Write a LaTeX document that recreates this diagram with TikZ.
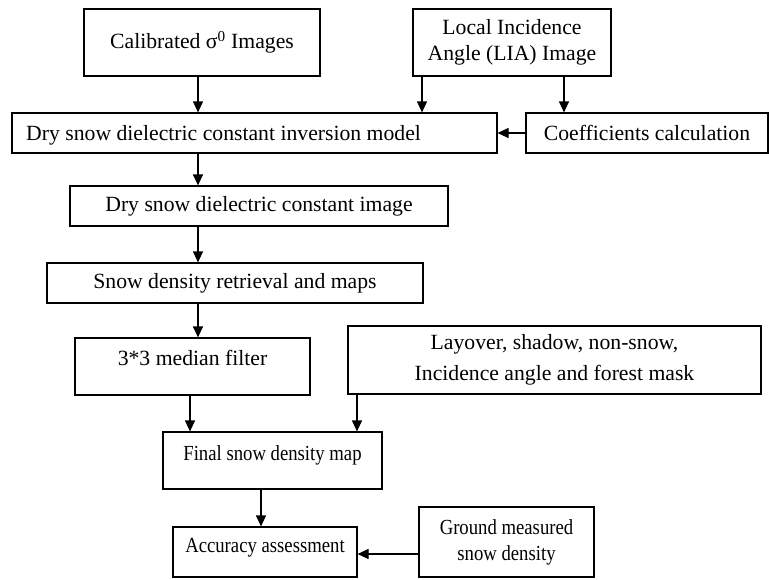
\documentclass[tikz,border=0pt]{standalone}
\usepackage{fontspec}
\setmainfont{Liberation Serif}
\newfontfamily\condensedserif[FakeStretch=0.87]{Liberation Serif}
\usetikzlibrary{arrows.meta}
\tikzset{
  box/.style={draw, line width=1.2pt, inner sep=0pt, align=center, font=\fontsize{21.7}{26}\selectfont},
  lbl/.style={inner sep=0pt, align=center, font=\fontsize{21.7}{26}\selectfont},
  small/.style={font=\condensedserif\fontsize{21.5}{26}\selectfont},
  arr/.style={line width=1.2pt, -{Triangle[length=11pt,width=10pt]}},
}
\begin{document}
\begin{tikzpicture}[x=1pt,y=-1pt]
\useasboundingbox (0,0) rectangle (769,579);
\node[box, minimum width=236, minimum height=67] (cal) at (202,42.5) {Calibrated σ\textsuperscript{0} Images};
\node[box, minimum width=198, minimum height=67] (lia) at (512,42.5) {Local Incidence\\Angle (LIA) Image};
\node[box, minimum width=485, minimum height=40] (inv) at (254.5,133) {};
\node[lbl, anchor=base west] (invt) at (26,140.5) {Dry snow dielectric constant inversion model};
\node[box, minimum width=242, minimum height=40] (coef) at (647,133) {Coefficients calculation};
\node[box, minimum width=378, minimum height=40] (die) at (259,206) {Dry snow dielectric constant image};
\node[box, minimum width=376, minimum height=40] (sdr) at (235,283) {Snow density retrieval and maps};
\node[box, minimum width=235, minimum height=57] (med) at (192.5,366.5) {};
\node[lbl, anchor=base] (medt) at (192.5,365) {3*3 median filter};
\node[box, minimum width=413, minimum height=68, font=\fontsize{21.7}{31}\selectfont] (lay) at (554.5,360) {Layover, shadow, non-snow,\\Incidence angle and forest mask};
\node[box, minimum width=219, minimum height=57] (fin) at (272.5,460.5) {};
\node[lbl, small, anchor=base] (fint) at (272.5,460) {Final snow density map};
\node[box, minimum width=184, minimum height=50] (acc) at (265,552) {};
\node[lbl, small, anchor=base] (acct) at (265,552) {Accuracy assessment};
\node[box, small, minimum width=175, minimum height=70] (gnd) at (506.5,542) {Ground measured\\snow density};
\draw[arr] (198,0 |- cal.south) -- (198,0 |- inv.north);
\draw[arr] (422,0 |- lia.south) -- (422,0 |- inv.north);
\draw[arr] (564,0 |- lia.south) -- (564,0 |- coef.north);
\draw[arr] (coef.west) -- (inv.east);
\draw[arr] (198,0 |- inv.south) -- (198,0 |- die.north);
\draw[arr] (198,0 |- die.south) -- (198,0 |- sdr.north);
\draw[arr] (198,0 |- sdr.south) -- (198,0 |- med.north);
\draw[arr] (190,0 |- med.south) -- (190,0 |- fin.north);
\draw[arr] (357,0 |- lay.south) -- (357,0 |- fin.north);
\draw[arr] (261,0 |- fin.south) -- (261,0 |- acc.north);
\draw[arr] (gnd.west |- 0,554) -- (acc.east |- 0,554);
\end{tikzpicture}
\end{document}
